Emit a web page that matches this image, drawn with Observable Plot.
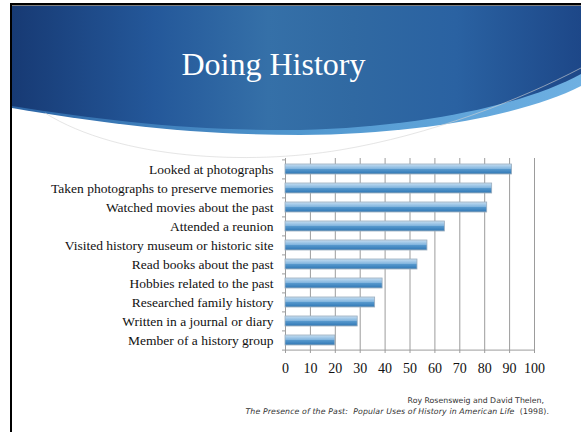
<!DOCTYPE html>
<html><head><meta charset="utf-8">
<script src="https://cdn.jsdelivr.net/npm/d3@7"></script>
<script src="https://cdn.jsdelivr.net/npm/@observablehq/plot@0.6"></script>
<style>
html,body{margin:0;padding:0;background:#fff;}
#page{position:relative;width:581px;height:432px;overflow:hidden;background:#fff;}
#bg{position:absolute;left:0;top:0;}
#title{position:absolute;left:0;top:48px;width:547px;text-align:center;font-family:"Liberation Serif",serif;font-size:32px;line-height:32px;color:#fff;}
#chart{position:absolute;left:0;top:140px;}
#caption{position:absolute;right:32px;top:396px;font-family:"DejaVu Sans",sans-serif;font-size:7.8px;line-height:10.5px;color:#333;text-align:right;white-space:pre;}
</style></head>
<body><div id="page">
<svg id="bg" width="581" height="432">
  <defs>
    <linearGradient id="hdr" x1="0" x2="1" y1="0" y2="0">
      <stop offset="0" stop-color="#173a74"/>
      <stop offset="0.25" stop-color="#24589a"/>
      <stop offset="0.45" stop-color="#3570a8"/>
      <stop offset="0.6" stop-color="#3069a2"/>
      <stop offset="0.78" stop-color="#2a62a2"/>
      <stop offset="1" stop-color="#1d4788"/>
    </linearGradient>
    <linearGradient id="band" x1="0" x2="1" y1="0" y2="0">
      <stop offset="0" stop-color="#2d66a6"/>
      <stop offset="0.5" stop-color="#5097cf"/>
      <stop offset="1" stop-color="#6eb0e2"/>
    </linearGradient>
  </defs>
  <path d="M12,6 H581 V86 C530,112 430,134 300,135 C190,135 100,123 12,108 Z" fill="url(#band)"/>
  <path d="M12,6 H581 V74 C530,102 430,127 300,130 C190,131 100,120 12,106 Z" fill="url(#hdr)"/>
  <path d="M45,113 C120,160 250,165 340,150 C430,135 520,100 581,68" fill="none" stroke="#d4d4d4" stroke-width="1" opacity="0.6"/>
  <rect x="10" y="3" width="2" height="429" fill="#000"/>
  <rect x="10" y="3" width="571" height="2.5" fill="#000"/>
</svg>
<div id="title">Doing History</div>
<div id="chart"></div>
<div id="caption"><div style="padding-right:5px">Roy Rosensweig and David Thelen,</div><div style="letter-spacing:0.12px"><i>The Presence of the Past:  Popular Uses of History in American Life</i>  (1998).</div></div>
</div>
<script>
const categories = [
  "Looked at photographs",
  "Taken photographs to preserve memories",
  "Watched movies about the past",
  "Attended a reunion",
  "Visited history museum or historic site",
  "Read books about the past",
  "Hobbies related to the past",
  "Researched family history",
  "Written in a journal or diary",
  "Member of a history group"
];
const values = [91, 83, 81, 64, 57, 53, 39, 36, 29, 20];
const xTicks = [0, 10, 20, 30, 40, 50, 60, 70, 80, 90, 100];

const data = categories.map((c, i) => ({category: c, value: values[i]}));
const grid = "#9c9c9c";

const plot = Plot.plot({
  width: 581,
  height: 240,
  marginTop: 18,
  marginBottom: 30,
  marginLeft: 285,
  marginRight: 47,
  style: {background: "transparent", fontFamily: "'Liberation Serif', serif", color: "#111", overflow: "visible"},
  x: {domain: [0, 100], label: null},
  y: {domain: categories, paddingInner: 0.5, paddingOuter: 0.25, label: null},
  marks: [
    Plot.ruleX(xTicks, {stroke: grid, strokeWidth: 1}),
    Plot.barX(data, {x: "value", y: "category", fill: "url(#barGrad)", stroke: "#9aadbf", strokeWidth: 0.8}),
    Plot.ruleY(categories, {y: d => d, x1: -1.2, x2: 0, dy: -9.6, stroke: grid}),
    Plot.ruleY([categories[categories.length - 1]], {y: d => d, x1: -1.2, x2: 100, dy: 9.6, stroke: grid}),
    Plot.axisX({ticks: xTicks, tickSize: 3, tickPadding: 10, fontSize: 14, label: null, stroke: grid, fill: "#111"}),
    Plot.axisY({tickSize: 0, tickPadding: 12, fontSize: 13.5, label: null, fill: "#111"})
  ]
});

const defs = d3.select(plot).insert("defs", ":first-child");
const lg = defs.append("linearGradient").attr("id", "barGrad")
  .attr("x1", 0).attr("x2", 0).attr("y1", 0).attr("y2", 1);
[[0, "#c8def0"], [0.2, "#a9cdea"], [0.48, "#80b4de"], [0.55, "#5597cc"], [0.85, "#3b81bc"], [1, "#4f86b4"]]
  .forEach(([o, c]) => lg.append("stop").attr("offset", o).attr("stop-color", c));

document.getElementById("chart").appendChild(plot);
</script>
</body></html>
